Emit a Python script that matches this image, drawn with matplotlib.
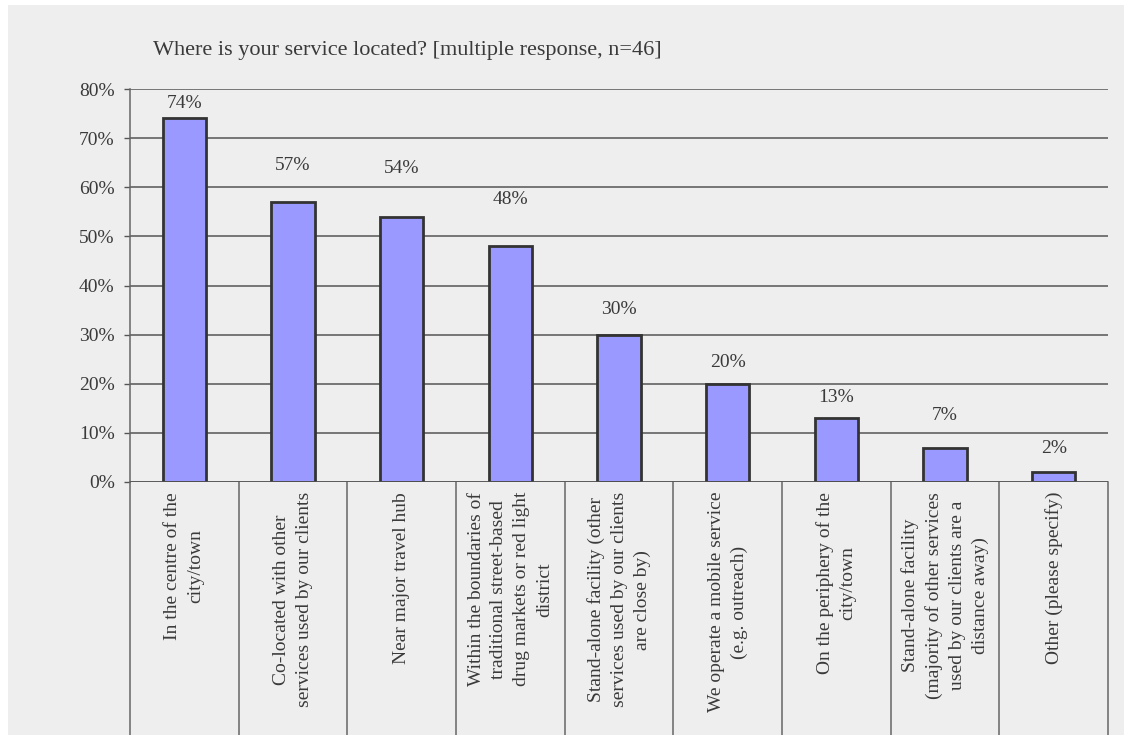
import matplotlib
matplotlib.use("Agg")
import matplotlib.pyplot as plt
from matplotlib.patches import Rectangle
from matplotlib.ticker import PercentFormatter

categories = [
    "In the centre of the\ncity/town",
    "Co-located with other\nservices used by our clients",
    "Near major travel hub",
    "Within the boundaries of\ntraditional street-based\ndrug markets or red light\ndistrict",
    "Stand-alone facility (other\nservices used by our clients\nare close by)",
    "We operate a mobile service\n(e.g. outreach)",
    "On the periphery of the\ncity/town",
    "Stand-alone facility\n(majority of other services\nused by our clients are a\ndistance away)",
    "Other (please specify)",
]
values = [74, 57, 54, 48, 30, 20, 13, 7, 2]
yticks = [0, 10, 20, 30, 40, 50, 60, 70, 80]
title = "Where is your service located? [multiple response, n=46]"

# vertical offset of each value label above its bar (percentage points)
label_offsets = [3.0, 7.5, 9.9, 9.6, 5.2, 4.4, 4.1, 6.6, 4.9]

plt.rcParams["font.family"] = ["Liberation Serif", "DejaVu Serif"]
text_color = "#3a3a3a"
bg = "#eeeeee"

W, H = 1124, 735
fig = plt.figure(figsize=(W / 100, H / 100), dpi=100, facecolor="white")
fig.patches.append(Rectangle((8 / W, 0), 1 - 8 / W, 1 - 5 / H,
                             transform=fig.transFigure, facecolor=bg,
                             edgecolor="none", zorder=-10))

left, right = 130 / W, 1108 / W
bottom, top = 1 - 482 / H, 1 - 89 / H
ax = fig.add_axes([left, bottom, right - left, top - bottom])
ax.set_facecolor(bg)

n = len(categories)
x = list(range(n))
ax.bar(x, values, width=0.4, color="#9999ff", edgecolor="#333333",
       linewidth=2.0, zorder=3)

ax.set_xlim(-0.5, n - 0.5)
ax.set_ylim(0, 80)
ax.set_yticks(yticks)
ax.yaxis.set_major_formatter(PercentFormatter(decimals=0))
ax.tick_params(axis="y", length=4, width=1, color="#555555",
               labelsize=14, labelcolor=text_color, pad=7)
ax.tick_params(axis="x", length=0, labelbottom=False)
ax.yaxis.grid(True, color="#555555", linewidth=1.1, zorder=1)
ax.set_axisbelow(True)
for s in ["top", "right", "bottom"]:
    ax.spines[s].set_visible(False)
ax.spines["left"].set_color("#666666")
ax.spines["left"].set_linewidth(1.1)
ax.axhline(0, color="#555555", linewidth=1.1, zorder=4)

# value labels
for xi, v, off in zip(x, values, label_offsets):
    ax.text(xi, v + off, f"{v}%", ha="center", va="center",
            fontsize=14, color=text_color)

# category dividers running down through the label area
trans = ax.get_xaxis_transform()
axis_height_px = 482 - 89
depth = -(735 - 482) / axis_height_px
for b in [i - 0.5 for i in range(n + 1)]:
    ax.plot([b, b], [0, depth], transform=trans, color="#666666",
            linewidth=1.1, clip_on=False)

# rotated category labels
label_top = -(492 - 482) / axis_height_px
for xi, cat in zip(x, categories):
    ax.text(xi, label_top, cat, transform=trans, rotation=90,
            ha="center", va="top", multialignment="center",
            fontsize=14, color=text_color, linespacing=1.45)

fig.text(153 / W, 1 - 51 / H, title, ha="left", va="center",
         fontsize=16, color=text_color)

fig.savefig("out.png", dpi=100, facecolor=fig.get_facecolor())
